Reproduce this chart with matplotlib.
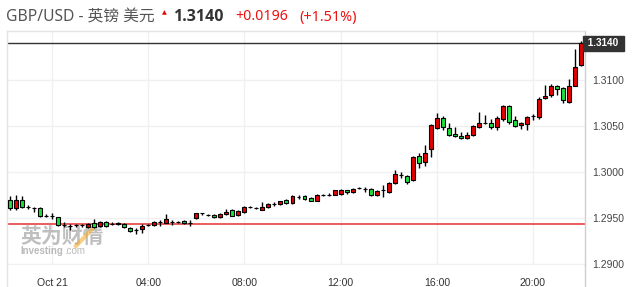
import matplotlib
matplotlib.use("Agg")
import matplotlib.pyplot as plt
import pandas as pd
from matplotlib.lines import Line2D
from matplotlib.transforms import blended_transform_factory

# ---------------- data (GBP/USD, 15-minute candles) ----------------
start_time = "2020-10-20 22:15"
n_candles = 96
day_start = "2020-10-21 00:00"

opens = [1.2970, 1.2961, 1.2970, 1.2962, 1.2961, 1.2961, 1.2952, 1.2952, 1.2951, 1.2942,
         1.2941, 1.2942, 1.2942, 1.2940, 1.2945, 1.2941, 1.2946, 1.2944, 1.2943, 1.2944,
         1.2939, 1.2937, 1.2938, 1.2942, 1.2942, 1.2946, 1.2945, 1.2946, 1.2946, 1.2947,
         1.2945, 1.2950, 1.2955, 1.2953, 1.2953, 1.2951, 1.2954, 1.2959, 1.2953, 1.2957,
         1.2962, 1.2961, 1.2959, 1.2962, 1.2965, 1.2965, 1.2970, 1.2966, 1.2973, 1.2974,
         1.2972, 1.2969, 1.2975, 1.2975, 1.2975, 1.2976, 1.2980, 1.2978, 1.2983, 1.2982,
         1.2982, 1.2975, 1.2980, 1.2978, 1.2988, 1.2997, 1.2996, 1.2991, 1.3017, 1.3011,
         1.3025, 1.3048, 1.3059, 1.3048, 1.3041, 1.3039, 1.3037, 1.3040, 1.3049, 1.3053,
         1.3053, 1.3049, 1.3058, 1.3072, 1.3057, 1.3051, 1.3052, 1.3061, 1.3060, 1.3080,
         1.3084, 1.3094, 1.3091, 1.3076, 1.3094, 1.3116]
highs = [1.2974, 1.2975, 1.2974, 1.2964, 1.2962, 1.2962, 1.2954, 1.2955, 1.2951, 1.2946,
         1.2943, 1.2943, 1.2943, 1.2945, 1.2949, 1.2947, 1.2947, 1.2946, 1.2946, 1.2945,
         1.2940, 1.2939, 1.2943, 1.2944, 1.2947, 1.2948, 1.2954, 1.2948, 1.2947, 1.2948,
         1.2948, 1.2956, 1.2956, 1.2954, 1.2954, 1.2956, 1.2960, 1.2960, 1.2959, 1.2963,
         1.2963, 1.2962, 1.2967, 1.2966, 1.2967, 1.2969, 1.2971, 1.2975, 1.2975, 1.2975,
         1.2973, 1.2976, 1.2976, 1.2977, 1.2981, 1.2982, 1.2981, 1.2983, 1.2984, 1.2984,
         1.2983, 1.2980, 1.2986, 1.2989, 1.3002, 1.3000, 1.2997, 1.3017, 1.3021, 1.3029,
         1.3052, 1.3064, 1.3061, 1.3053, 1.3049, 1.3044, 1.3044, 1.3051, 1.3065, 1.3062,
         1.3058, 1.3061, 1.3073, 1.3073, 1.3061, 1.3054, 1.3061, 1.3063, 1.3082, 1.3095,
         1.3096, 1.3095, 1.3092, 1.3101, 1.3134, 1.3142]
lows = [1.2959, 1.2959, 1.2961, 1.2960, 1.2957, 1.2951, 1.2951, 1.2949, 1.2941, 1.2940,
        1.2937, 1.2940, 1.2940, 1.2939, 1.2939, 1.2940, 1.2940, 1.2942, 1.2942, 1.2939,
        1.2935, 1.2933, 1.2934, 1.2941, 1.2941, 1.2941, 1.2945, 1.2942, 1.2945, 1.2944,
        1.2941, 1.2949, 1.2953, 1.2952, 1.2950, 1.2950, 1.2953, 1.2952, 1.2952, 1.2956,
        1.2961, 1.2960, 1.2959, 1.2961, 1.2963, 1.2964, 1.2965, 1.2965, 1.2971, 1.2970,
        1.2968, 1.2968, 1.2974, 1.2974, 1.2975, 1.2975, 1.2976, 1.2977, 1.2982, 1.2978,
        1.2974, 1.2974, 1.2973, 1.2977, 1.2987, 1.2993, 1.2987, 1.2990, 1.3004, 1.3007,
        1.3016, 1.3047, 1.3046, 1.3039, 1.3038, 1.3036, 1.3036, 1.3039, 1.3048, 1.3052,
        1.3047, 1.3046, 1.3055, 1.3052, 1.3049, 1.3047, 1.3046, 1.3057, 1.3058, 1.3079,
        1.3082, 1.3084, 1.3075, 1.3075, 1.3093, 1.3115]
closes = [1.2961, 1.2970, 1.2962, 1.2962, 1.2961, 1.2952, 1.2952, 1.2952, 1.2942, 1.2942,
          1.2941, 1.2942, 1.2942, 1.2944, 1.2940, 1.2946, 1.2941, 1.2944, 1.2945, 1.2940,
          1.2936, 1.2937, 1.2941, 1.2942, 1.2946, 1.2946, 1.2949, 1.2946, 1.2946, 1.2945,
          1.2945, 1.2955, 1.2955, 1.2953, 1.2951, 1.2954, 1.2957, 1.2952, 1.2958, 1.2962,
          1.2962, 1.2961, 1.2962, 1.2965, 1.2965, 1.2968, 1.2966, 1.2974, 1.2973, 1.2971,
          1.2969, 1.2975, 1.2975, 1.2975, 1.2980, 1.2981, 1.2978, 1.2982, 1.2983, 1.2982,
          1.2975, 1.2979, 1.2980, 1.2988, 1.2998, 1.2997, 1.2989, 1.3016, 1.3010, 1.3021,
          1.3051, 1.3059, 1.3049, 1.3040, 1.3039, 1.3037, 1.3040, 1.3050, 1.3053, 1.3053,
          1.3049, 1.3059, 1.3072, 1.3054, 1.3050, 1.3053, 1.3060, 1.3061, 1.3079, 1.3083,
          1.3094, 1.3090, 1.3078, 1.3094, 1.3114, 1.3140]

prev_close = 1.2944
last_price = 1.3140
change = "+0.0196"
change_pct = "(+1.51%)"
title_name = "GBP/USD - 英镑 美元"

y_ticks = [1.2900, 1.2950, 1.3000, 1.3050, 1.3100]
x_tick_hours = [0, 4, 8, 12, 16, 20]
x_tick_labels = ["Oct 21", "04:00", "08:00", "12:00", "16:00", "20:00"]

# ---------------- figure ----------------
W, H = 632, 287
fig = plt.figure(figsize=(W / 100, H / 100), dpi=100)
fig.patch.set_facecolor("white")

def fx(px):
    return px / W

def fy(py):
    return 1 - py / H

ax_left, ax_right, ax_top, ax_bot = 7, 585, 31, 264.5
ax = fig.add_axes([fx(ax_left), fy(ax_bot), fx(ax_right - ax_left), (ax_bot - ax_top) / H])
ax.set_facecolor("white")

times = pd.date_range(start_time, periods=n_candles, freq="15min")
x = ((times - pd.Timestamp(day_start)) / pd.Timedelta(hours=1)).to_numpy()

UP = "#e60000"
DOWN = "#1ee03c"
body_w = 0.165

for xi, o, h, l, c in zip(x, opens, highs, lows, closes):
    ax.vlines(xi, l, h, color="black", linewidth=1.0, zorder=3)
    if c > o:
        col = UP
    elif c < o:
        col = DOWN
    else:
        col = "black"
    ax.bar(xi, abs(c - o), bottom=min(o, c), width=body_w, color=col,
           edgecolor="black", linewidth=0.8, zorder=4)

ax.set_xlim(-1.871, 22.163)
ax.set_ylim(1.28995, 1.31533)

# grid
for yt in y_ticks:
    ax.axhline(yt, color="#f0f0f0", linewidth=1, zorder=0)
for xt in x_tick_hours:
    ax.axvline(xt, color="#f0f0f0", linewidth=1, zorder=0)

# previous close & last price lines
ax.axhline(prev_close, color="#e83030", linewidth=1.1, zorder=2)
ax.axhline(last_price, color="#333333", linewidth=1.0, zorder=2)

# ticks
ax.set_yticks(y_ticks)
ax.set_yticklabels([f"{v:.4f}" for v in y_ticks])
ax.yaxis.tick_right()
ax.tick_params(axis="y", length=0, pad=5, labelsize=7.5, labelcolor="#444444")
ax.set_xticks(x_tick_hours)
ax.set_xticklabels(x_tick_labels)
ax.tick_params(axis="x", length=0, pad=10, labelsize=7.6, labelcolor="#333333")
for lab in ax.get_xticklabels() + ax.get_yticklabels():
    lab.set_fontfamily(["Liberation Sans", "DejaVu Sans"])

ax.spines["bottom"].set_visible(False)
ax.spines["top"].set_color("#e4e4e4")
ax.spines["left"].set_color("#e4e4e4")
ax.spines["right"].set_color("#cfcfcf")
for s in ["top", "left", "right"]:
    ax.spines[s].set_linewidth(1)

# frame extension to bottom of image
fig.add_artist(Line2D([fx(ax_left), fx(ax_left)], [fy(ax_bot), 0], color="#e4e4e4", lw=1))
fig.add_artist(Line2D([fx(ax_right), fx(ax_right)], [fy(ax_bot), 0], color="#cfcfcf", lw=1))

# last price tag
trans = blended_transform_factory(ax.transAxes, ax.transData)
ax.text(1.0, last_price, " 1.3140 ", transform=trans, ha="left", va="center",
        color="white", fontsize=7.2, fontweight="bold", family=["Liberation Sans", "DejaVu Sans"],
        bbox=dict(boxstyle="square,pad=0.25", fc="#333333", ec="#333333"), zorder=10,
        clip_on=False)

# header
hdr_y = fy(17)
cjk = ["Noto Sans", "Noto Sans CJK SC", "DejaVu Sans"]
fig.text(fx(6), hdr_y, title_name, ha="left", va="center", fontsize=11.3,
         color="#555555", family=cjk)
fig.text(fx(164), fy(13), "▲", ha="center", va="center", fontsize=4.5,
         color="#e60000", family=["DejaVu Sans"])
fig.text(fx(173), hdr_y, f"{last_price:.4f}", ha="left", va="center", fontsize=11.5,
         fontweight="bold", color="#333333", family=["Open Sans", "Liberation Sans", "DejaVu Sans"])
fig.text(fx(235), hdr_y, change, ha="left", va="center", fontsize=10.2,
         color="#ee1111", family=cjk)
fig.text(fx(299), hdr_y, change_pct, ha="left", va="center", fontsize=10.4,
         color="#ee1111", family=cjk)

# watermark
ax.text(fx(20), fy(236), "英为财情", transform=fig.transFigure, ha="left", va="center",
        fontsize=15, fontweight="bold", color="#8c8c8c", alpha=0.55,
        family=["Noto Sans CJK SC"], zorder=1)
ax.add_line(Line2D([fx(76), fx(93)], [fy(246), fy(228)], transform=fig.transFigure,
                   color="#f5a623", lw=3, alpha=0.55, zorder=1, clip_on=False))
ax.text(fx(20), fy(251.5), "Investing", transform=fig.transFigure, ha="left", va="center",
        fontsize=7, fontweight="bold", color="#8c8c8c", alpha=0.6,
        family=["Liberation Sans", "DejaVu Sans"], zorder=1)
ax.text(fx(64), fy(251.5), ".com", transform=fig.transFigure, ha="left", va="center",
        fontsize=7, color="#8c8c8c", alpha=0.6,
        family=["Liberation Sans", "DejaVu Sans"], zorder=1)

fig.savefig("out.png", dpi=100, facecolor="white")
